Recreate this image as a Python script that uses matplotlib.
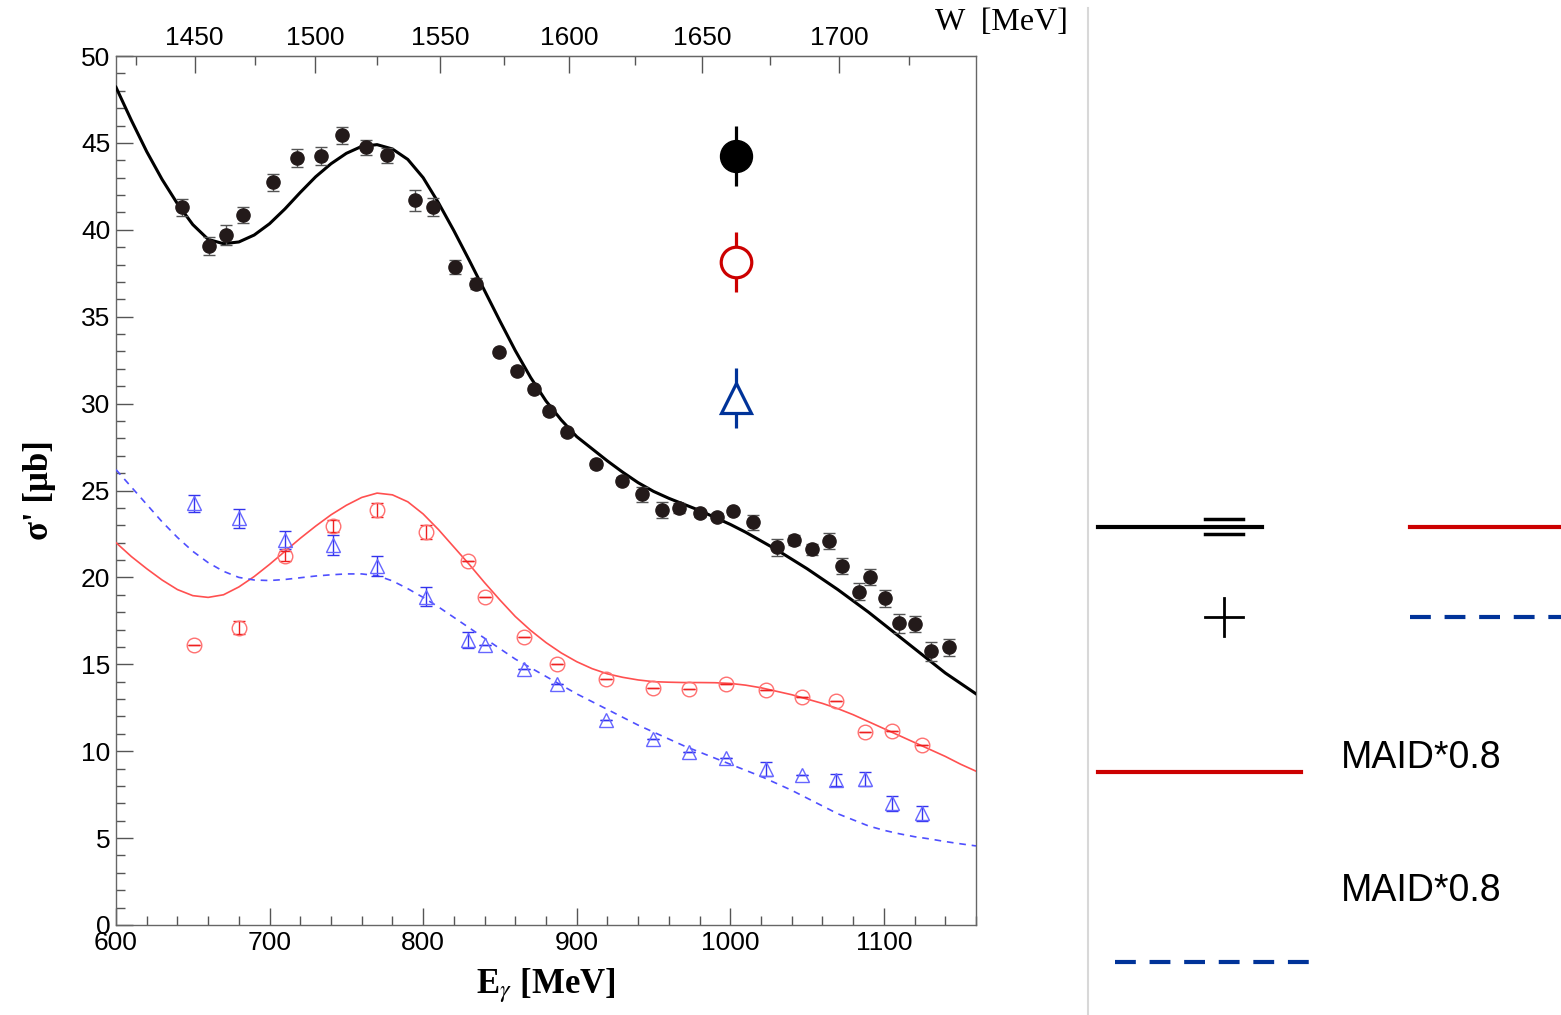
import numpy as np
import matplotlib
matplotlib.use("Agg")
import matplotlib.pyplot as plt
from matplotlib.ticker import MultipleLocator

plt.rcParams["font.family"] = ["Liberation Sans", "DejaVu Sans"]
plt.rcParams["mathtext.fontset"] = "stix"

# --- data ---
# black: total cross section data
E_black = [643, 660.5, 671.5, 683, 702, 717.7, 733.7, 747.3, 763, 776.4, 795, 806.3,
           821, 834.7, 849.3, 861, 872.2, 882, 893.7, 912.7, 929.4, 942.6, 955.4, 966.6,
           980.3, 991.4, 1002, 1015, 1030.5, 1041.8, 1053, 1064.4, 1073, 1083.8, 1091,
           1101, 1110, 1120, 1130.6, 1142.4]
sig_black = [41.3, 39.07, 39.7, 40.85, 42.73, 44.13, 44.25, 45.43, 44.74, 44.28, 41.71, 41.31,
             37.86, 36.9, 32.97, 31.89, 30.84, 29.57, 28.35, 26.52, 25.56, 24.78, 23.88, 24.0,
             23.68, 23.49, 23.82, 23.16, 21.73, 22.15, 21.61, 22.09, 20.66, 19.18, 20.04,
             18.79, 17.35, 17.31, 15.76, 15.97]
err_black = [0.5, 0.5, 0.6, 0.45, 0.5, 0.5, 0.5, 0.5, 0.45, 0.45, 0.6, 0.5,
             0.4, 0.3, 0.2, 0.2, 0.2, 0.2, 0.2, 0.2, 0.2, 0.45, 0.45, 0.3,
             0.2, 0.2, 0.2, 0.45, 0.5, 0.3, 0.3, 0.45, 0.45, 0.5, 0.45,
             0.5, 0.55, 0.45, 0.55, 0.5]

# red circles and blue triangles share the same energy bins
E_open = [651, 680, 710, 741, 770, 802, 829, 840, 866, 887, 919, 950, 973, 997,
          1023, 1047, 1069, 1088, 1105, 1125]
sig_red = [16.09, 17.11, 21.23, 22.98, 23.88, 22.61, 20.94, 18.85, 16.57, 15.0, 14.18,
           13.64, 13.58, 13.89, 13.5, 13.12, 12.87, 11.1, 11.16, 10.33]
err_red = [0, 0.38, 0.3, 0.35, 0.38, 0.4, 0, 0, 0, 0, 0, 0, 0, 0, 0, 0, 0, 0, 0, 0]
sig_blue = [24.26, 23.39, 22.15, 21.86, 20.66, 18.89, 16.4, 16.11, 14.71, 13.87, 11.78,
            10.72, 9.94, 9.62, 8.98, 8.65, 8.34, 8.4, 7.01, 6.42]
err_blue = [0.48, 0.53, 0.53, 0.58, 0.57, 0.55, 0.45, 0, 0, 0, 0, 0, 0, 0,
            0.41, 0, 0.34, 0.43, 0.44, 0.41]

# model curves, read every 10 MeV
E_curve = [600, 610, 620, 630, 640, 650, 660, 670, 680, 690, 700, 710, 720, 730, 740,
           750, 760, 770, 780, 790, 800, 810, 820, 830, 840, 850, 860, 870, 880, 890,
           900, 910, 920, 930, 940, 950, 960, 970, 980, 990, 1000, 1010, 1020, 1030,
           1040, 1050, 1060, 1070, 1080, 1090, 1100, 1110, 1120, 1130, 1140, 1150, 1160]
sig_black_curve = [48.2, 46.3, 44.5, 42.9, 41.5, 40.3, 39.45, 39.2, 39.3, 39.7, 40.35, 41.2,
                   42.15, 43.05, 43.8, 44.4, 44.8, 44.9, 44.65, 44.05, 43.0, 41.55, 39.95,
                   38.25, 36.5, 34.75, 33.05, 31.5, 30.15, 29.05, 28.1, 27.4, 26.7, 26.05,
                   25.45, 24.95, 24.55, 24.2, 23.85, 23.45, 23.05, 22.6, 22.1, 21.6, 21.05,
                   20.5, 19.9, 19.3, 18.65, 18.0, 17.3, 16.6, 15.9, 15.2, 14.5, 13.9, 13.3]
sig_red_curve = [22.0, 21.2, 20.5, 19.85, 19.3, 18.95, 18.85, 19.0, 19.45, 20.05, 20.75,
                 21.5, 22.25, 22.95, 23.6, 24.15, 24.6, 24.85, 24.75, 24.35, 23.65, 22.75,
                 21.75, 20.75, 19.7, 18.7, 17.75, 16.95, 16.25, 15.65, 15.15, 14.75, 14.45,
                 14.25, 14.1, 14.0, 13.97, 13.95, 13.95, 13.94, 13.9, 13.8, 13.65, 13.45,
                 13.25, 13.0, 12.75, 12.45, 12.1, 11.7, 11.3, 10.9, 10.5, 10.1, 9.7, 9.25,
                 8.85]
sig_blue_curve = [26.2, 25.2, 24.2, 23.2, 22.3, 21.5, 20.85, 20.35, 20.0, 19.85, 19.82,
                  19.88, 19.98, 20.08, 20.15, 20.2, 20.2, 20.1, 19.8, 19.35, 18.85, 18.3,
                  17.7, 17.1, 16.5, 15.9, 15.3, 14.8, 14.3, 13.8, 13.3, 12.85, 12.4, 11.95,
                  11.5, 11.1, 10.7, 10.3, 9.95, 9.6, 9.25, 8.9, 8.55, 8.15, 7.75, 7.3,
                  6.85, 6.4, 6.05, 5.7, 5.45, 5.25, 5.08, 4.95, 4.8, 4.67, 4.55]

MP = 938.27


def e2w(e):
    return np.sqrt(MP ** 2 + 2 * MP * np.asarray(e, dtype=float))


def w2e(w):
    w = np.asarray(w, dtype=float)
    return (w ** 2 - MP ** 2) / (2 * MP)


fig = plt.figure(figsize=(15.61, 10.15), dpi=100)
ax = fig.add_axes([116 / 1561, 1 - 925 / 1015, 860 / 1561, 869 / 1015])

# curves
ax.plot(E_curve, sig_black_curve, color="black", lw=2.2, zorder=3)
ax.plot(E_curve, sig_red_curve, color="#ff5050", lw=1.2, zorder=3)
ax.plot(E_curve, sig_blue_curve, color="#4f4fff", lw=1.2, ls=(0, (4, 3.5)), zorder=3)

# data
ax.errorbar(E_black, sig_black, yerr=err_black, fmt="o", color="#231a1a", ms=9.5,
            ecolor="#555555", elinewidth=1, capsize=4.5, capthick=1, zorder=4)
ax.errorbar(E_open, sig_red, yerr=err_red, fmt="o", mfc="none", mec="#ff7070", mew=1,
            ms=10.5, ecolor="#ee2020", elinewidth=1, capsize=4.5, capthick=1.6, zorder=4)
ax.errorbar(E_open, sig_blue, yerr=err_blue, fmt="^", mfc="none", mec="#6666ff", mew=1,
            ms=10.5, ecolor="#3333ee", elinewidth=1, capsize=4.5, capthick=1.6, zorder=4)

# in-plot legend markers
leg_x = 0.721
ax.errorbar([leg_x], [0.885], yerr=[0.0345], transform=ax.transAxes, fmt="o",
            color="black", ms=23, elinewidth=2.3, capsize=0, zorder=5, clip_on=False)
ax.errorbar([leg_x], [0.763], yerr=[0.0345], transform=ax.transAxes, fmt="o",
            mfc="white", mec="#cc0000", mew=2.3, color="#cc0000", ms=22, elinewidth=2.3,
            capsize=0, zorder=5, clip_on=False)
ax.errorbar([leg_x], [0.606], yerr=[0.0345], transform=ax.transAxes, fmt="^",
            mfc="white", mec="#003399", mew=2.3, color="#003399", ms=22, elinewidth=2.3,
            capsize=0, zorder=5, clip_on=False)

ax.set_xlim(600, 1160)
ax.set_ylim(0, 50)
ax.xaxis.set_major_locator(MultipleLocator(100))
ax.xaxis.set_minor_locator(MultipleLocator(20))
ax.yaxis.set_major_locator(MultipleLocator(5))
ax.yaxis.set_minor_locator(MultipleLocator(1))
ax.tick_params(which="both", direction="in", top=False, right=False, color="#555555",
               labelsize=19, pad=4)
ax.tick_params(which="major", length=12, width=1)
ax.tick_params(which="minor", length=6.5, width=1)
for s in ax.spines.values():
    s.set_color("#666666")
    s.set_linewidth(1)

ax.set_xlabel(r"E$_\gamma$ [MeV]", family="Liberation Serif", fontsize=25,
              fontweight="bold", labelpad=8)
ax.set_ylabel("σ' [μb]", family="Liberation Serif", fontsize=25, fontweight="bold",
              labelpad=18)

top = ax.secondary_xaxis("top", functions=(e2w, w2e))
top.xaxis.set_major_locator(MultipleLocator(50))
top.xaxis.set_minor_locator(MultipleLocator(25))
top.tick_params(which="both", direction="in", color="#555555", labelsize=19, pad=4)
top.tick_params(which="major", length=12, width=1)
top.tick_params(which="minor", length=6.5, width=1)
top.spines["top"].set_color("#666666")
ax.text((1068 - 116) / 860, (925 - 22) / 869, "W  [MeV]", transform=ax.transAxes,
        ha="right", va="center", family="Liberation Serif", fontsize=23)

# right-hand leftover legend pieces (figure pixel coordinates)
ov = fig.add_axes([0, 0, 1, 1], zorder=-1)
ov.set_xlim(0, 1561)
ov.set_ylim(1015, 0)
ov.axis("off")
ov.plot([1088, 1088], [8, 1015], color="#d8d8d8", lw=1.5)
ov.plot([1098, 1262], [527, 527], color="black", lw=3)
ov.plot([1205, 1243], [519, 519], color="black", lw=2.5)
ov.plot([1205, 1243], [534, 534], color="black", lw=2.5)
ov.plot([1205, 1243], [617, 617], color="black", lw=2)
ov.plot([1224, 1224], [598, 636], color="black", lw=2)
ov.plot([1410, 1561], [527, 527], color="#cc0000", lw=3)
ov.plot([1410, 1561], [617, 617], color="#003399", lw=3, ls=(0, (5, 3.3)))
ov.plot([1098, 1301], [772, 772], color="#cc0000", lw=3)
ov.plot([1115, 1319], [962, 962], color="#003399", lw=3, ls=(0, (5, 3.3)))
ov.text(1341, 758, "MAID*0.8", fontsize=27, va="center")
ov.text(1341, 891, "MAID*0.8", fontsize=27, va="center")

fig.savefig("out.png", dpi=100)
